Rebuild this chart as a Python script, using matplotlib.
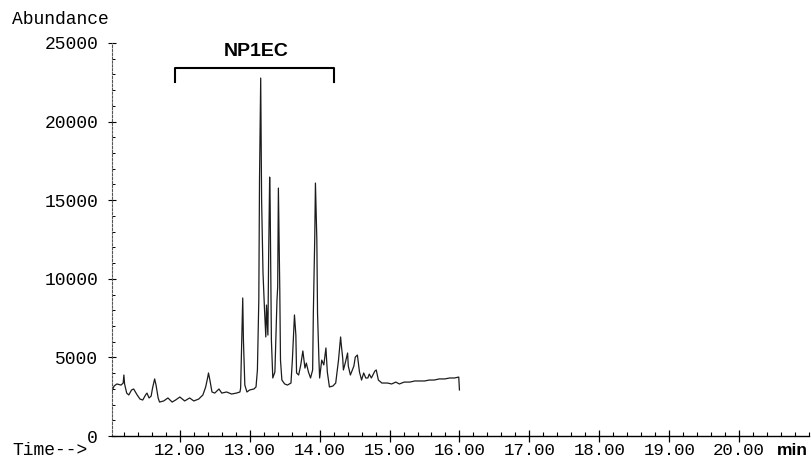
import numpy as np
import matplotlib.pyplot as plt
from matplotlib.ticker import MultipleLocator, FormatStrFormatter

# total ion chromatogram, read point by point (time in min, abundance)
time_min = [
    11.03, 11.06, 11.10, 11.16, 11.19, 11.20, 11.21, 11.24, 11.27, 11.31,
    11.34, 11.39, 11.43, 11.47, 11.51, 11.53, 11.56, 11.59, 11.61, 11.64,
    11.66, 11.69, 11.71, 11.77, 11.83, 11.89, 11.94, 12.00, 12.07, 12.14,
    12.20, 12.27, 12.33, 12.37, 12.40, 12.41, 12.43, 12.46, 12.50, 12.56,
    12.60, 12.67, 12.74, 12.81, 12.86, 12.87, 12.885, 12.89, 12.90, 12.91,
    12.93, 12.96, 13.00, 13.06, 13.09, 13.11, 13.13, 13.14, 13.157, 13.17,
    13.19, 13.20, 13.21, 13.23, 13.24, 13.26, 13.27, 13.285, 13.292, 13.30,
    13.31, 13.33, 13.36, 13.39, 13.40, 13.41, 13.43, 13.44, 13.46, 13.50,
    13.54, 13.59, 13.61, 13.63, 13.64, 13.66, 13.67, 13.70, 13.73, 13.76,
    13.79, 13.81, 13.84, 13.87, 13.90, 13.91, 13.93, 13.94, 13.96, 13.97,
    13.99, 14.00, 14.03, 14.06, 14.09, 14.11, 14.14, 14.19, 14.23, 14.27,
    14.30, 14.31, 14.33, 14.34, 14.37, 14.40, 14.41, 14.44, 14.49, 14.51,
    14.54, 14.57, 14.60, 14.63, 14.66, 14.69, 14.71, 14.74, 14.79, 14.81,
    14.84, 14.89, 14.97, 15.03, 15.09, 15.14, 15.21, 15.29, 15.36, 15.43,
    15.50, 15.57, 15.64, 15.71, 15.79, 15.86, 15.93, 15.99, 16.00,
]
abundance = [
    2860, 3180, 3310, 3240, 3370, 3880, 3310, 2730, 2610, 2930,
    2990, 2610, 2350, 2290, 2610, 2730, 2420, 2540, 3050, 3630,
    3240, 2420, 2160, 2230, 2420, 2160, 2290, 2480, 2230, 2420,
    2230, 2350, 2610, 3120, 3750, 4010, 3560, 2800, 2730, 2990,
    2730, 2800, 2670, 2730, 2800, 3050, 5790, 6550, 8780, 6100,
    3240, 2800, 2930, 2990, 3120, 4200, 8650, 16280, 22770, 15010,
    10370, 9290, 8200, 6300, 8330, 6420, 11190, 16470, 14820, 11190,
    6100, 3690, 4070, 8650, 9480, 15770, 9290, 4830, 3560, 3310,
    3240, 3370, 4830, 6740, 7700, 6420, 4010, 3880, 4520, 5410,
    4320, 4640, 4070, 3690, 4200, 7820, 12590, 16090, 12470, 7820,
    4830, 3690, 4830, 4520, 5600, 4070, 3120, 3180, 3370, 4830,
    6300, 5790, 4960, 4200, 4710, 5280, 4450, 3880, 4450, 5020,
    5150, 4070, 3560, 4010, 3690, 3690, 3940, 3690, 4130, 4200,
    3560, 3370, 3370, 3310, 3430, 3310, 3430, 3430, 3500, 3500,
    3500, 3560, 3560, 3630, 3630, 3690, 3690, 3750, 2930,
]

x_ticks = [12, 13, 14, 15, 16, 17, 18, 19, 20]
y_ticks = [0, 5000, 10000, 15000, 20000, 25000]

# NP1EC elution window
np1ec_start, np1ec_end = 11.93, 14.21
np1ec_level, np1ec_drop = 23400, 22500

mono = "Liberation Mono"

fig = plt.figure(figsize=(8.11, 4.61), dpi=100)
ax = fig.add_axes([112 / 811, 25 / 461, 697 / 811, 393 / 461])

ax.plot(time_min, abundance, color="#1c1c1c", linewidth=0.9)

ax.set_xlim(11.03, 21.0)
ax.set_ylim(0, 25000)

ax.xaxis.set_major_locator(plt.FixedLocator(x_ticks))
ax.xaxis.set_minor_locator(MultipleLocator(0.2))
ax.xaxis.set_major_formatter(FormatStrFormatter("%.2f"))
ax.yaxis.set_major_locator(plt.FixedLocator(y_ticks))
ax.yaxis.set_minor_locator(MultipleLocator(1000))

for side in ("top", "right"):
    ax.spines[side].set_visible(False)
ax.spines["bottom"].set_linewidth(1.0)
ax.spines["left"].set_linewidth(0.8)
ax.spines["left"].set_linestyle((0, (2, 1.5)))
ax.spines["left"].set_color("#555555")

ax.tick_params(axis="x", which="major", direction="inout", length=8, width=0.9,
               pad=1, labelsize=12.5)
ax.tick_params(axis="x", which="minor", direction="in", length=3, width=0.8)
ax.tick_params(axis="y", which="major", direction="inout", length=6, width=0.8,
               pad=7, labelsize=13)
ax.tick_params(axis="y", which="minor", direction="in", length=2.5, width=0.7)
for lbl in ax.get_xticklabels() + ax.get_yticklabels():
    lbl.set_fontfamily(mono)

# bracket marking the NP1EC region
ax.plot([np1ec_start, np1ec_start, np1ec_end, np1ec_end],
        [np1ec_drop, np1ec_level, np1ec_level, np1ec_drop],
        color="black", linewidth=1.5, clip_on=False)
ax.text((np1ec_start + np1ec_end) / 2 + 0.02, np1ec_level + 500, "NP1EC",
        ha="center", va="bottom", fontsize=14, fontweight="bold",
        family="Liberation Sans")

fig.text(12 / 811, 1 - 20 / 461, "Abundance", ha="left", va="center",
         fontsize=13, family=mono)
fig.text(12 / 811, 1 - 450 / 461, "Time-->", ha="left", va="center",
         fontsize=13, family=mono)
fig.text(808 / 811, 1 - 450 / 461, "min", ha="right", va="center",
         fontsize=12.5, fontweight="bold", family="Liberation Sans")

fig.savefig("out.png", dpi=100)
